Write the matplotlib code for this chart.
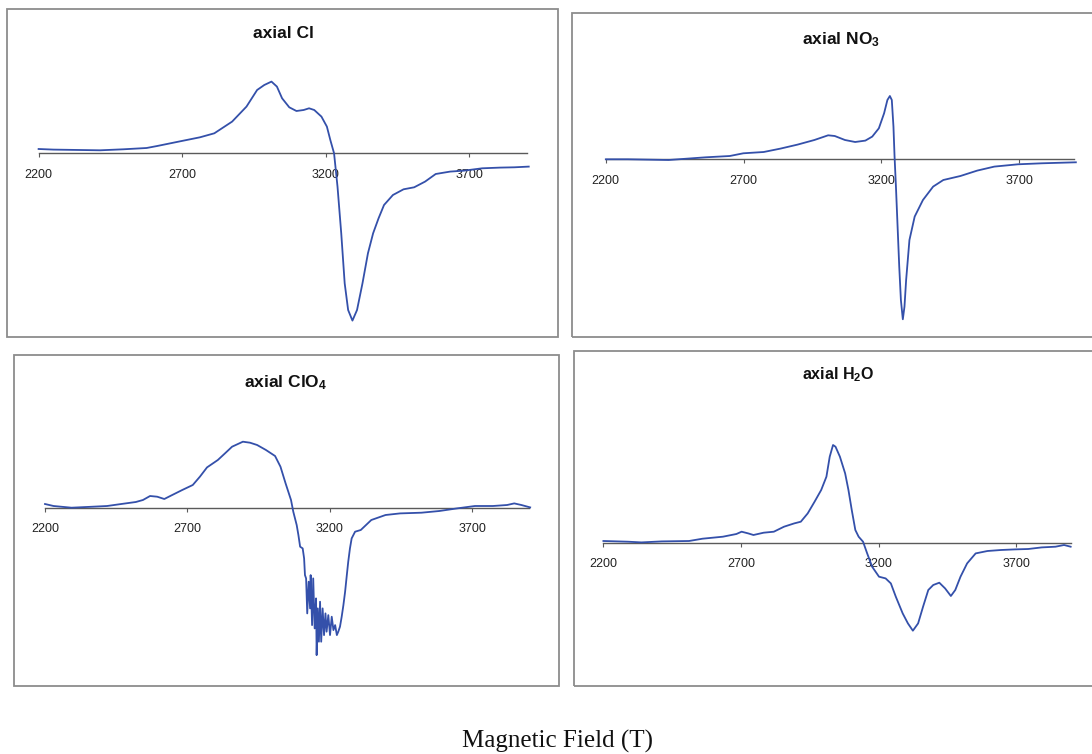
import matplotlib
matplotlib.use('Agg')
import matplotlib.pyplot as plt
from matplotlib.patches import Rectangle

plt.rcParams['font.family'] = ['Liberation Sans', 'DejaVu Sans']
plt.rcParams['mathtext.default'] = 'regular'

# ---------------- data ----------------
ticks = [2200, 2700, 3200, 3700]
tick_labels = ['2200', '2700', '3200', '3700']
titles = ['axial Cl', r'axial NO$_3$', r'axial ClO$_4$', r'axial H$_2$O']
x_label = 'Magnetic Field (T)'

cl_field = [2200, 2252, 2414, 2495, 2576, 2613, 2688, 2762, 2812, 2874, 2924, 2961, 2986, 3011, 3030,
            3048, 3073, 3098, 3123, 3142, 3160, 3185, 3204, 3216, 3229, 3241, 3254, 3266, 3278, 3293,
            3309, 3328, 3347, 3365, 3384, 3403, 3434, 3471, 3508, 3546, 3583, 3633, 3683, 3745, 3807,
            3857, 3907]
cl_signal = [4.3, 3.7, 3.0, 4.0, 5.3, 7.3, 11.7, 16.0, 20.0, 31.7, 46.7, 63.3, 68.3, 71.7, 66.7,
             55.0, 46.0, 42.3, 43.3, 45.0, 43.3, 36.7, 26.7, 13.3, 0.0, -33.3, -80.0, -130.0, -156.7, -167.3,
             -156.7, -130.0, -100.0, -80.0, -65.0, -51.7, -41.7, -36.0, -34.0, -28.3, -20.7, -18.3, -17.3, -15.0, -14.3,
             -14.0, -13.3]

no3_field = [2200, 2280, 2428, 2563, 2650, 2699, 2773, 2834, 2896, 2957, 3007, 3031, 3068, 3105, 3142,
             3167, 3191, 3210, 3222, 3231, 3238, 3244, 3248, 3253, 3259, 3265, 3271, 3278, 3284, 3290,
             3302, 3321, 3351, 3388, 3425, 3487, 3548, 3610, 3696, 3782, 3906]
no3_signal = [0, 0, -0.7, 2, 3.3, 6, 7.3, 10.7, 14.7, 19.3, 24, 23.3, 19.3, 17.3, 18.7,
              22.7, 31, 46, 59.3, 63.3, 59.3, 32.7, 2.7, -27.3, -67.3, -107.3, -140.7, -160, -147.3, -120.7,
              -80.7, -57.3, -40.7, -27.3, -20.7, -16.7, -11.3, -7.3, -5, -4, -3]

clo4_field = [2200, 2230, 2293, 2368, 2418, 2468, 2519, 2544, 2569, 2594, 2619, 2644, 2682, 2719, 2744,
              2769, 2807, 2832, 2857, 2895, 2920, 2945, 2976, 3008, 3027, 3045, 3064, 3072, 3084, 3090,
              3096, 3105, 3110, 3113, 3117, 3121, 3126, 3131, 3133, 3138, 3142, 3147, 3152, 3154, 3158,
              3162, 3166, 3170, 3175, 3180, 3185, 3189, 3195, 3201, 3207, 3213, 3219, 3225, 3230, 3236,
              3242, 3248, 3254, 3260, 3265, 3271, 3277, 3289, 3309, 3346, 3396, 3447, 3522, 3585, 3647,
              3710, 3773, 3823, 3848, 3873, 3904]
clo4_signal = [3.7, 1.7, 0, 1, 1.7, 3.7, 5.7, 7.7, 11.7, 11, 8.7, 12.3, 17.7, 22.7, 31,
               40.3, 47.7, 54.3, 61, 66, 65, 62.7, 57.7, 51.7, 41, 24.3, 7.7, -4, -17.4, -27.4,
               -39, -40.7, -50.7, -67.4, -70.7, -105.7, -74, -100.7, -67.4, -117.4, -70.7, -120.7, -90.7, -147.4, -100.7,
               -134, -94, -134, -100.7, -127.4, -105.7, -124, -107.4, -127.4, -109, -122.4, -117.4, -127.4, -124, -119,
               -109, -97.4, -84, -67.4, -54, -40.7, -30.7, -24, -22.3, -12.3, -7.3, -5.7, -5, -3.3, -0.7,
               1.7, 1.7, 2.7, 4.3, 2.7, 0.3]

h2o_field = [2200, 2289, 2338, 2412, 2511, 2560, 2634, 2683, 2702, 2726, 2745, 2782, 2819, 2856, 2893,
             2917, 2942, 2967, 2991, 3010, 3022, 3034, 3043, 3059, 3078, 3090, 3102, 3115, 3127, 3143,
             3158, 3176, 3201, 3225, 3244, 3262, 3287, 3306, 3324, 3343, 3361, 3380, 3398, 3420, 3441,
             3462, 3478, 3497, 3521, 3552, 3595, 3644, 3694, 3743, 3792, 3842, 3873, 3897]
h2o_signal = [1.7, 1, 0.3, 1.3, 1.7, 4, 6, 8.7, 11, 9.3, 7.7, 10, 11, 16, 19.3,
              21, 29.3, 41, 52.7, 66, 86, 97.7, 96, 86, 69.3, 52.7, 32.7, 12.7, 6, 1,
              -10.7, -24, -34, -35.7, -40.7, -54, -70.7, -80.7, -88, -80.7, -64, -47.3, -42.3, -40, -45.7,
              -53.3, -47.3, -34, -20.7, -10.7, -8.3, -7.3, -6.7, -6.3, -4.7, -4, -2.3, -4]

series = [(cl_field, cl_signal), (no3_field, no3_signal),
          (clo4_field, clo4_signal), (h2o_field, h2o_signal)]

# ---------------- layout (pixels) ----------------
W, H = 1092, 754
fig = plt.figure(figsize=(W / 100, H / 100), dpi=100)

# box (x0, y0, x1, y1), pixel of 2200 tick, pixel of 3700 tick, baseline y, title centre (x, y), title size
layout = [
    ((7, 9, 558, 337), 38.6, 469.3, 153.3, (283, 33), 12.5),
    ((572, 13, 1108, 337), 605.8, 1019.1, 159.3, (841, 40), 12.5),
    ((14, 355, 559, 686), 45.0, 472.1, 507.7, (286, 383), 12.5),
    ((574, 351, 1108, 686), 603.4, 1016.4, 542.7, (838, 375), 11.5),
]

LINE_COLOR = '#3450aa'
AXIS_COLOR = '#5a5a5a'
BOX_COLOR = '#8c8c8c'

for (fx, fy), title, (box, p0, p1, base, (tx, ty), tsize) in zip(series, titles, layout):
    x0, y0, x1, y1 = box
    ax = fig.add_axes([x0 / W, 1 - y1 / H, (x1 - x0) / W, (y1 - y0) / H])
    ax.patch.set_alpha(0)
    scale = (p1 - p0) / 1500.0
    ax.set_xlim(2200 - (p0 - x0) / scale, 2200 + (x1 - p0) / scale)
    ax.set_ylim(-(y1 - base), base - y0)
    for side in ('top', 'left', 'right'):
        ax.spines[side].set_visible(False)
    sp = ax.spines['bottom']
    sp.set_position(('data', 0))
    sp.set_bounds(2200, 3900)
    sp.set_color(AXIS_COLOR)
    sp.set_linewidth(1.0)
    sp.set_zorder(1)
    ax.set_yticks([])
    ax.set_xticks(ticks)
    ax.set_xticklabels(tick_labels)
    ax.tick_params(axis='x', direction='out', length=3, width=0.8, color=AXIS_COLOR,
                   labelsize=9, labelcolor='#222222', pad=8)
    ax.plot(fx, fy, color=LINE_COLOR, lw=1.3, zorder=3, clip_on=False)

    fig.patches.append(Rectangle((x0 / W, 1 - y1 / H), (x1 - x0) / W, (y1 - y0) / H,
                                 transform=fig.transFigure, fill=False,
                                 ec=BOX_COLOR, lw=1.3))
    fig.text(tx / W, 1 - ty / H, title, ha='center', va='center',
             fontsize=tsize, fontweight='bold', color='#111111')

fig.text(557 / W, 1 - 741 / H, x_label, ha='center', va='center',
         family='Liberation Serif', fontsize=18, color='#111111')

fig.savefig('out.png', dpi=100)
